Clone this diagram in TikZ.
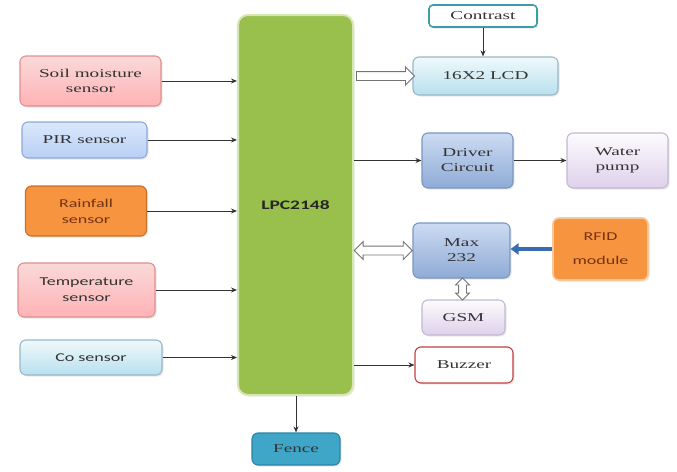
\documentclass[tikz,border=0pt]{standalone}
\usepackage{fontspec}
\setmainfont[FakeStretch=1.6]{Liberation Serif}
\newfontfamily\calib[FakeStretch=1.5]{Carlito}
\usepackage{tikz}
\usetikzlibrary{arrows.meta,shapes.arrows,shadows}
\definecolor{pinktop}{rgb}{0.980,0.850,0.850}
\definecolor{pinkbot}{rgb}{1.000,0.700,0.710}
\definecolor{pinkline}{rgb}{0.880,0.560,0.560}
\definecolor{bluetop}{rgb}{0.860,0.910,0.990}
\definecolor{bluebot}{rgb}{0.720,0.810,0.960}
\definecolor{blueline}{rgb}{0.560,0.660,0.850}
\definecolor{orangefill}{rgb}{0.965,0.580,0.250}
\definecolor{orangeline}{rgb}{0.780,0.440,0.160}
\definecolor{orangeglow}{rgb}{0.980,0.780,0.600}
\definecolor{cyantop}{rgb}{0.940,0.975,0.985}
\definecolor{cyanbot}{rgb}{0.720,0.880,0.935}
\definecolor{cyanline}{rgb}{0.600,0.720,0.780}
\definecolor{lpcfill}{rgb}{0.600,0.750,0.300}
\definecolor{lpcline}{rgb}{0.840,0.910,0.690}
\definecolor{fencefill}{rgb}{0.250,0.650,0.780}
\definecolor{fenceline}{rgb}{0.160,0.520,0.650}
\definecolor{tealline}{rgb}{0.240,0.610,0.660}
\definecolor{drvtop}{rgb}{0.800,0.860,0.950}
\definecolor{drvbot}{rgb}{0.560,0.670,0.840}
\definecolor{drvline}{rgb}{0.480,0.590,0.760}
\definecolor{lavtop}{rgb}{0.990,0.985,0.995}
\definecolor{lavbot}{rgb}{0.870,0.820,0.920}
\definecolor{lavline}{rgb}{0.760,0.720,0.820}
\definecolor{buzzline}{rgb}{0.760,0.250,0.250}
\definecolor{rfidarrow}{rgb}{0.220,0.420,0.700}
\definecolor{textgray}{rgb}{0.200,0.200,0.200}
\definecolor{textbrown}{rgb}{0.450,0.200,0.080}
\tikzstyle{block}=[rounded corners=6pt,line width=1.1pt,align=center,inner sep=2pt,
  font=\fontsize{12}{15}\selectfont,text=textgray,
  drop shadow={opacity=0.18,shadow xshift=1.5pt,shadow yshift=-1.5pt}]
\tikzstyle{pinkbox}=[block,draw=pinkline,top color=pinktop,bottom color=pinkbot]
\tikzstyle{bluebox}=[block,draw=blueline,top color=bluetop,bottom color=bluebot]
\tikzstyle{orangebox}=[block,draw=orangeline,fill=orangefill,text=textbrown]
\tikzstyle{cyanbox}=[block,draw=cyanline,top color=cyantop,bottom color=cyanbot]
\tikzstyle{drvbox}=[block,draw=drvline,top color=drvtop,bottom color=drvbot]
\tikzstyle{lavbox}=[block,draw=lavline,top color=lavtop,bottom color=lavbot]
\tikzstyle{sans}=[font=\calib\fontsize{12}{16}\selectfont]
\tikzstyle{link}=[draw=black!80,line width=0.9pt,-{Stealth[length=6pt,width=5pt]}]
\tikzstyle{hollow}=[single arrow,draw=black!55,fill=white,line width=0.9pt,
  inner xsep=0pt,inner ysep=4pt,single arrow head extend=4.5pt,single arrow head indent=0pt]
\tikzstyle{hollowboth}=[double arrow,draw=black!55,fill=white,line width=0.9pt,
  inner xsep=0pt,inner ysep=4pt,double arrow head extend=4.5pt]

\begin{document}
\begin{tikzpicture}[x=1pt,y=-1pt]
	\useasboundingbox (0,0) rectangle (677,471);
	% sensors
	\node [style=pinkbox, minimum width=141pt, minimum height=50pt] (soil) at (90.5,81) {Soil moisture\\sensor};
	\node [style=bluebox, minimum width=125pt, minimum height=36pt] (pir) at (84.5,140) {PIR sensor};
	\node [style=orangebox, sans, minimum width=121pt, minimum height=50pt] (rain) at (86,211) {Rainfall\\sensor};
	\node [style=pinkbox, sans, minimum width=137pt, minimum height=54pt] (temp) at (86.5,290) {Temperature\\sensor};
	\node [style=cyanbox, sans, minimum width=142pt, minimum height=35pt] (co) at (91,357.5) {Co sensor};
	% controller
	\node [block, draw=lpcline, fill=lpcfill, line width=2pt, rounded corners=10pt,
	       minimum width=115pt, minimum height=380pt] (lpc) at (295.5,205) {};
	\node [font=\calib\bfseries\fontsize{13}{15}\selectfont, text=black!85] (lpcname) at (295.5,205) {LPC2148};
	\node [block, draw=fenceline, fill=fencefill, minimum width=88pt, minimum height=32pt] (fence) at (296,449) {Fence};
	% outputs
	\node [block, draw=tealline, fill=white, line width=1.6pt, rounded corners=4pt, minimum width=108pt, minimum height=22pt] (contrast) at (483,16) {Contrast};
	\node [style=cyanbox, minimum width=145pt, minimum height=38pt] (lcd) at (485.5,76) {16X2 LCD};
	\node [style=drvbox, minimum width=91pt, minimum height=55pt] (driver) at (467.5,160.5) {Driver\\Circuit};
	\node [style=lavbox, minimum width=101pt, minimum height=55pt] (pump) at (617.5,160.5) {Water\\pump};
	\node [style=drvbox, minimum width=97pt, minimum height=55pt] (max) at (461.5,250.5) {Max\\232};
	\node [block, sans, draw=orangeglow, fill=orangefill, line width=1.6pt, text=textbrown,
	       minimum width=95pt, minimum height=62pt] (rfid) at (600.5,249) {RFID\\[8pt]module};
	\node [style=lavbox, minimum width=83pt, minimum height=35pt] (gsm) at (463.5,317.5) {GSM};
	\node [block, draw=buzzline, fill=white, minimum width=98pt, minimum height=36pt] (buzzer) at (464,365) {Buzzer};
	% connections
	\draw [link] (soil.east) -- (soil.east -| lpc.west);
	\draw [link] (pir.east) -- (pir.east -| lpc.west);
	\draw [link] (rain.east) -- (rain.east -| lpc.west);
	\draw [link] (temp.east) -- (temp.east -| lpc.west);
	\draw [link] (co.east) -- (co.east -| lpc.west);
	\draw [link] (lpc.south -| fence.north) -- (fence.north);
	\draw [link] (contrast.south) -- (contrast.south |- lcd.north);
	\draw [link] (lpc.east |- driver.west) -- (driver.west);
	\draw [link] (driver.east) -- (pump.west);
	\draw [link] (lpc.east |- buzzer.west) -- (buzzer.west);
	\draw [draw=rfidarrow, line width=3.5pt, -{Triangle[length=8pt,width=11pt]}] (rfid.west) -- (rfid.west -| max.east);
	\path (lpc.east |- lcd.west) -- (lcd.west) node [midway, hollow, minimum height=58pt] (lcdbus) {};
	\path (lpc.east |- max.west) -- (max.west) node [midway, hollowboth, minimum height=58pt] (maxbus) {};
	\path (max.south) -- (gsm.north) node [midway, hollowboth, rotate=90, minimum height=22pt,
	       inner ysep=3.5pt, double arrow head extend=3pt] (gsmbus) {};
\end{tikzpicture}
\end{document}
